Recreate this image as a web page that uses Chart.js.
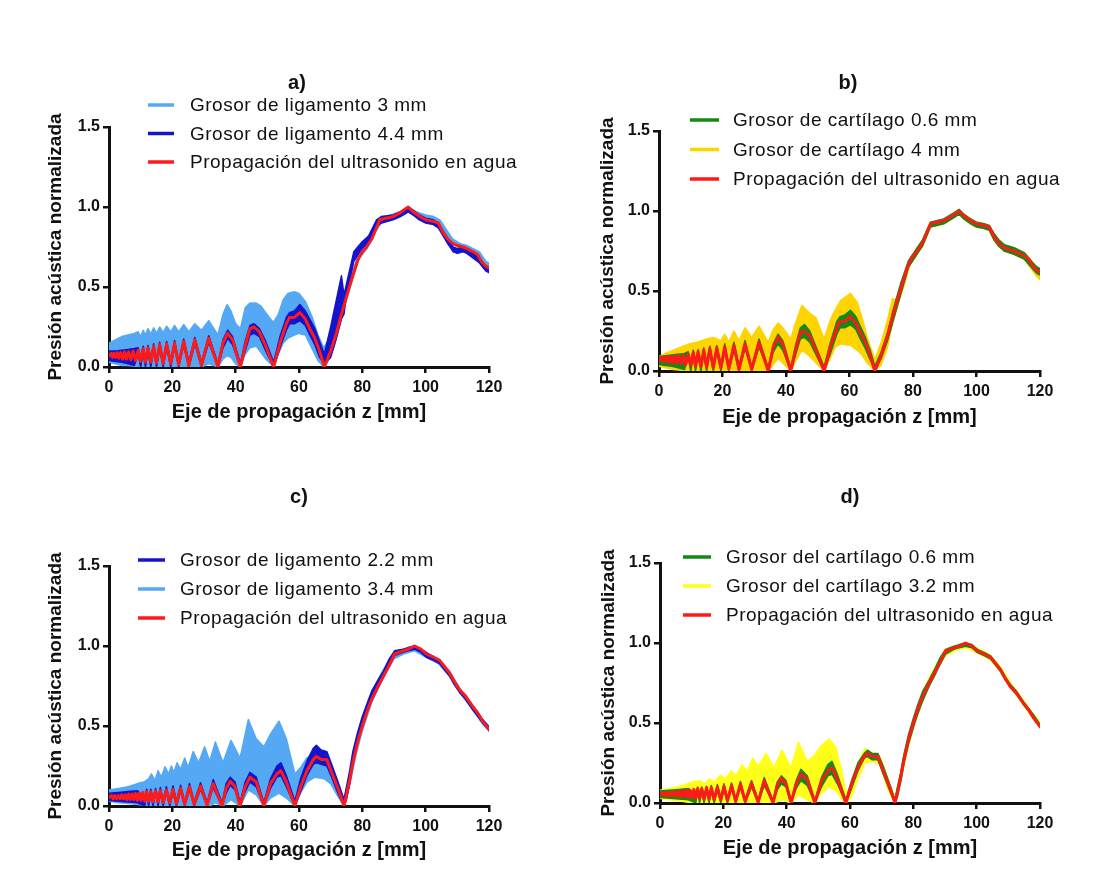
<!DOCTYPE html>
<html>
<head>
<meta charset="utf-8">
<script src="https://cdn.jsdelivr.net/npm/chart.js@4.4.1/dist/chart.umd.min.js"></script>
<style>
  html, body { margin: 0; padding: 0; background: #fff; }
  #wrap { position: relative; width: 1107px; height: 890px; }
  .panel { position: absolute; width: 553px; height: 445px; }
</style>
</head>
<body>
<div id="wrap">
  <div class="panel" style="left:0;top:0"><canvas id="chartA" width="553" height="445"></canvas></div>
  <div class="panel" style="left:553px;top:0"><canvas id="chartB" width="553" height="445"></canvas></div>
  <div class="panel" style="left:0;top:445px"><canvas id="chartC" width="553" height="445"></canvas></div>
  <div class="panel" style="left:553px;top:445px"><canvas id="chartD" width="553" height="445"></canvas></div>
</div>
<script>
// ---- datos: eje z [mm] y presión normalizada ----

// agua, paneles a) y b)
const zWaterAB = [0, 0.7, 1.1, 1.6, 2.1, 2.6, 3.1, 3.7, 4.3, 4.9, 5.5, 6.2, 6.9, 7.6, 8.4, 9.2, 10, 10.8, 11.5, 12.3, 13.2, 14.1, 15, 16, 17.1, 18.2, 19.5, 20.7, 22, 23.6, 25.2, 27.1, 29.2, 31.5, 34.4, 36, 37.5, 39, 41.5, 43, 44.5, 45.8, 47.5, 49.5, 52, 54, 56, 57, 58.5, 60.3, 62, 63.4, 65, 66.5, 68, 70, 71.8, 73, 75, 77, 78.6, 80, 81.3, 83, 85.5, 87.5, 89.7, 91.5, 93, 94.5, 96, 98.2, 100, 102.4, 104, 105.5, 107, 108.7, 110, 111.8, 113, 115, 116.5, 117.6, 119, 120];
const waterAB = [0.07, 0.085, 0.06, 0.085, 0.06, 0.09, 0.055, 0.09, 0.05, 0.095, 0.05, 0.095, 0.045, 0.1, 0.04, 0.105, 0.035, 0.115, 0.03, 0.12, 0.03, 0.13, 0.025, 0.14, 0.02, 0.145, 0.02, 0.15, 0.015, 0.16, 0.01, 0.17, 0.01, 0.18, 0, 0.15, 0.21, 0.17, 0, 0.13, 0.24, 0.25, 0.22, 0.13, 0, 0.15, 0.27, 0.31, 0.31, 0.34, 0.3, 0.24, 0.18, 0.1, 0, 0.1, 0.21, 0.3, 0.44, 0.57, 0.67, 0.72, 0.75, 0.8, 0.92, 0.93, 0.94, 0.96, 0.98, 1.0, 0.97, 0.94, 0.92, 0.91, 0.9, 0.84, 0.8, 0.77, 0.76, 0.75, 0.74, 0.72, 0.7, 0.66, 0.63, 0.62];

// a) ligamento 4.4 mm (banda: máximo / mínimo)
const zLig44 = [0, 2, 4, 6, 8, 9.2, 10, 10.8, 11.5, 12.3, 13.2, 14.1, 15, 16, 17.1, 18.2, 19.5, 20.7, 22, 23.6, 25.2, 27.1, 29.2, 31.5, 34.4, 36, 37.5, 39, 41.5, 43, 44.5, 45.8, 47.5, 49.5, 52, 54, 56, 57, 58.5, 60.3, 62, 63.4, 65, 66.5, 68, 70, 71.8, 73.4, 74.2, 75, 77.3, 79.8, 82, 84.5, 86, 89.7, 92, 94.5, 96, 98, 100, 102.4, 104, 105.5, 107, 108.7, 110, 111.8, 113, 115, 117, 119, 120];
const lig44Hi = [0.1, 0.1, 0.105, 0.11, 0.115, 0.12, 0.06, 0.13, 0.05, 0.135, 0.05, 0.145, 0.04, 0.155, 0.035, 0.16, 0.035, 0.165, 0.03, 0.175, 0.03, 0.185, 0.03, 0.195, 0.02, 0.17, 0.23, 0.19, 0.02, 0.16, 0.26, 0.27, 0.24, 0.16, 0.03, 0.19, 0.31, 0.34, 0.35, 0.39, 0.35, 0.3, 0.24, 0.16, 0.08, 0.25, 0.42, 0.57, 0.45, 0.52, 0.72, 0.78, 0.82, 0.92, 0.94, 0.95, 0.97, 1.0, 0.98, 0.95, 0.93, 0.92, 0.9, 0.85, 0.8, 0.75, 0.74, 0.75, 0.74, 0.71, 0.68, 0.63, 0.62];
const lig44Lo = [0.04, 0.035, 0.03, 0.02, 0.01, 0.08, 0, 0.09, 0, 0.095, 0, 0.105, 0, 0.115, 0, 0.12, 0, 0.125, 0, 0.135, 0, 0.145, 0, 0.155, 0, 0.12, 0.18, 0.14, 0, 0.1, 0.2, 0.21, 0.19, 0.1, 0, 0.12, 0.23, 0.27, 0.27, 0.29, 0.26, 0.2, 0.14, 0.06, 0.02, 0.06, 0.18, 0.3, 0.33, 0.45, 0.66, 0.74, 0.78, 0.88, 0.9, 0.92, 0.94, 0.97, 0.95, 0.92, 0.9, 0.89, 0.87, 0.82, 0.77, 0.72, 0.71, 0.72, 0.71, 0.68, 0.65, 0.6, 0.59];

// a) ligamento 3 mm
const zLig3 = [0, 2, 4, 6, 8, 9.2, 10, 10.8, 11.5, 12.3, 13.2, 14.1, 15, 16, 17.1, 18.2, 19.5, 20.7, 22, 23.6, 25.2, 27.1, 29.2, 31.5, 34.4, 36, 37.3, 38.5, 40, 41.5, 43, 44.5, 46.5, 48, 49.5, 51, 52, 53.5, 55, 56.5, 58.5, 60, 62, 64, 66, 67.8, 69, 71, 73, 75, 77, 79, 81.5, 84, 86, 89, 92, 94.5, 97, 100, 102.5, 104.5, 106.5, 108.5, 111, 113, 115, 117, 119, 120];
const lig3Hi = [0.15, 0.17, 0.19, 0.2, 0.21, 0.22, 0.19, 0.23, 0.2, 0.24, 0.205, 0.245, 0.21, 0.25, 0.215, 0.255, 0.22, 0.26, 0.22, 0.265, 0.22, 0.27, 0.23, 0.29, 0.2, 0.33, 0.39, 0.35, 0.27, 0.24, 0.37, 0.4, 0.4, 0.38, 0.34, 0.3, 0.28, 0.33, 0.42, 0.46, 0.47, 0.46, 0.41, 0.32, 0.2, 0.12, 0.16, 0.3, 0.42, 0.47, 0.6, 0.72, 0.77, 0.88, 0.93, 0.95, 0.97, 1.0, 0.97, 0.95, 0.94, 0.92, 0.86, 0.8, 0.77, 0.76, 0.74, 0.72, 0.66, 0.65];
const lig3Lo = [0.03, 0.02, 0.01, 0.01, 0.005, 0, 0, 0, 0, 0, 0, 0, 0, 0, 0, 0, 0, 0, 0, 0, 0, 0, 0, 0.02, 0, 0.05, 0.07, 0.06, 0.02, 0, 0.08, 0.12, 0.13, 0.09, 0.05, 0.02, 0, 0.08, 0.15, 0.18, 0.2, 0.21, 0.2, 0.12, 0.04, 0, 0.03, 0.12, 0.28, 0.42, 0.56, 0.68, 0.74, 0.84, 0.9, 0.92, 0.94, 0.97, 0.94, 0.92, 0.91, 0.88, 0.82, 0.77, 0.74, 0.73, 0.71, 0.69, 0.63, 0.61];

// b) cartílago 0.6 mm
const zCart06B = [0, 2, 4, 6, 8, 9.2, 10, 10.8, 11.5, 12.3, 13.2, 14.1, 15, 16, 17.1, 18.2, 19.5, 20.7, 22, 23.6, 25.2, 27.1, 29.2, 31.5, 34.4, 36, 37.5, 39, 41.5, 43, 44.5, 45.8, 47.5, 49.5, 52, 54, 56, 57, 58.5, 60.3, 62, 63.4, 65, 66.5, 68, 70, 72, 74, 76, 78.6, 81.3, 83, 85.5, 89.7, 93, 94.5, 96, 98.2, 100, 102.4, 104, 105.5, 107, 108.7, 111.8, 115, 117.6, 119, 120];
const cart06BHi = [0.09, 0.095, 0.1, 0.105, 0.11, 0.12, 0.055, 0.13, 0.05, 0.135, 0.045, 0.145, 0.04, 0.155, 0.035, 0.16, 0.035, 0.17, 0.03, 0.18, 0.03, 0.19, 0.025, 0.2, 0.02, 0.17, 0.23, 0.19, 0.02, 0.16, 0.27, 0.29, 0.25, 0.15, 0.025, 0.18, 0.31, 0.34, 0.35, 0.38, 0.34, 0.28, 0.21, 0.13, 0.03, 0.12, 0.24, 0.4, 0.54, 0.69, 0.77, 0.82, 0.93, 0.95, 0.99, 1.01, 0.98, 0.95, 0.93, 0.92, 0.91, 0.86, 0.82, 0.79, 0.77, 0.74, 0.68, 0.65, 0.64];
const cart06BLo = [0.04, 0.035, 0.03, 0.02, 0.01, 0.08, 0, 0.09, 0, 0.095, 0, 0.1, 0, 0.11, 0, 0.12, 0, 0.125, 0, 0.13, 0, 0.14, 0, 0.15, 0, 0.12, 0.17, 0.13, 0, 0.1, 0.2, 0.21, 0.18, 0.1, 0, 0.11, 0.23, 0.27, 0.27, 0.29, 0.26, 0.2, 0.14, 0.07, 0, 0.08, 0.19, 0.33, 0.47, 0.65, 0.73, 0.78, 0.9, 0.92, 0.96, 0.98, 0.95, 0.92, 0.9, 0.89, 0.88, 0.82, 0.78, 0.75, 0.73, 0.7, 0.64, 0.61, 0.6];

// b) cartílago 4 mm
const zCart4B = [0, 2, 4.5, 7, 9.8, 12, 15, 17.2, 19.5, 20.7, 22, 23.6, 25.2, 27.1, 29.2, 31.5, 34.4, 36, 37.5, 39, 41.5, 43, 45, 47, 49.5, 52, 54, 55.5, 57.2, 60.3, 62.4, 64, 65.6, 68, 70, 72, 73.5, 75, 77, 79, 81.3, 83, 85.5, 89.7, 93, 94.5, 96, 98.2, 100, 102.4, 104, 105.5, 107, 108.7, 111.8, 115, 117.6, 119, 120];
const cart4BHi = [0.09, 0.11, 0.13, 0.15, 0.17, 0.18, 0.2, 0.21, 0.19, 0.23, 0.18, 0.25, 0.19, 0.27, 0.21, 0.28, 0.18, 0.26, 0.3, 0.27, 0.2, 0.3, 0.41, 0.37, 0.33, 0.2, 0.32, 0.38, 0.44, 0.485, 0.43, 0.33, 0.21, 0.07, 0.18, 0.32, 0.45, 0.45, 0.58, 0.7, 0.77, 0.82, 0.93, 0.95, 0.99, 1.01, 0.98, 0.95, 0.93, 0.92, 0.91, 0.86, 0.82, 0.79, 0.77, 0.74, 0.68, 0.65, 0.63];
const cart4BLo = [0.03, 0.02, 0.01, 0.005, 0, 0, 0, 0, 0, 0, 0, 0, 0, 0, 0, 0, 0, 0.04, 0.08, 0.05, 0, 0.06, 0.13, 0.1, 0.05, 0, 0.08, 0.15, 0.17, 0.16, 0.13, 0.1, 0.05, 0, 0.04, 0.15, 0.3, 0.4, 0.52, 0.66, 0.73, 0.78, 0.9, 0.92, 0.96, 0.98, 0.95, 0.92, 0.9, 0.89, 0.88, 0.82, 0.78, 0.75, 0.73, 0.7, 0.63, 0.59, 0.57];

// agua, paneles c) y d)
const zWaterCD = [0, 0.8, 1.3, 1.8, 2.4, 2.9, 3.5, 4, 4.6, 5.1, 5.7, 6.2, 6.8, 7.3, 7.9, 8.4, 9, 9.5, 10.1, 10.7, 11.3, 11.9, 12.5, 13.2, 13.9, 14.7, 15.5, 16.2, 17.1, 18.1, 19.2, 20.2, 21.3, 22.6, 23.9, 25.4, 26.9, 28.9, 31, 32.9, 35.7, 37, 38.3, 39.8, 41.4, 43, 44.5, 46.5, 48.9, 51, 53, 54.3, 56, 58.7, 60.5, 62.5, 64.5, 65.5, 67, 68.8, 70.5, 72.5, 74.2, 75, 76, 77, 78.5, 80, 81.3, 83, 85, 86.6, 88.5, 90.2, 92.8, 94.5, 96.5, 98.5, 100.2, 102.5, 104.4, 106, 107.6, 109, 110.7, 112.5, 114.9, 116.5, 118, 119.7, 120];
const waterCD = [0.055, 0.065, 0.045, 0.065, 0.045, 0.065, 0.045, 0.07, 0.045, 0.07, 0.04, 0.075, 0.04, 0.075, 0.04, 0.08, 0.035, 0.08, 0.035, 0.085, 0.03, 0.09, 0.03, 0.09, 0.025, 0.095, 0.025, 0.096, 0.02, 0.1, 0.02, 0.104, 0.015, 0.11, 0.01, 0.12, 0.01, 0.125, 0.005, 0.14, 0, 0.11, 0.155, 0.12, 0, 0.12, 0.18, 0.15, 0, 0.14, 0.2, 0.22, 0.15, 0, 0.12, 0.22, 0.29, 0.31, 0.29, 0.29, 0.2, 0.1, 0, 0.07, 0.16, 0.27, 0.4, 0.5, 0.58, 0.67, 0.75, 0.81, 0.88, 0.95, 0.97, 0.98, 1.0, 0.98, 0.95, 0.93, 0.91, 0.87, 0.83, 0.78, 0.725, 0.69, 0.62, 0.58, 0.53, 0.486, 0.48];

// c) ligamento 2.2 mm  /  d) cartílago 0.6 mm (mismas posiciones z)
const zThinCD = [0, 3, 6, 9, 11.3, 11.9, 12.5, 13.2, 13.9, 14.7, 15.5, 16.2, 17.1, 18.1, 19.2, 20.2, 21.3, 22.6, 23.9, 25.4, 26.9, 28.9, 31, 32.9, 35.7, 37, 38.3, 39.8, 41.4, 43, 44.5, 46.5, 48.9, 51, 53, 54.3, 56, 58.7, 60.5, 62.5, 64.5, 65.5, 67, 68.8, 70.5, 72.5, 74.2, 75, 76, 77, 78.5, 80, 81.3, 83, 85, 86.6, 88.5, 90.2, 92.8, 94.5, 96.5, 98.5, 100.2, 102.5, 104.4, 106, 107.6, 109, 110.7, 112.5, 114.9, 116.5, 118, 119.7, 120];
const lig22Hi = [0.08, 0.085, 0.09, 0.095, 0.05, 0.105, 0.045, 0.105, 0.04, 0.11, 0.04, 0.115, 0.035, 0.12, 0.035, 0.125, 0.03, 0.13, 0.025, 0.14, 0.025, 0.145, 0.02, 0.165, 0.02, 0.14, 0.18, 0.15, 0.02, 0.15, 0.21, 0.18, 0.02, 0.17, 0.25, 0.27, 0.19, 0.03, 0.17, 0.28, 0.36, 0.38, 0.35, 0.34, 0.25, 0.14, 0.04, 0.12, 0.22, 0.34, 0.46, 0.56, 0.63, 0.72, 0.79, 0.84, 0.92, 0.97, 0.98, 0.99, 1.0, 0.98, 0.96, 0.93, 0.91, 0.87, 0.83, 0.78, 0.73, 0.69, 0.62, 0.58, 0.54, 0.5, 0.49];
const lig22Lo = [0.035, 0.03, 0.025, 0.02, 0, 0.075, 0, 0.075, 0, 0.08, 0, 0.08, 0, 0.085, 0, 0.09, 0, 0.095, 0, 0.1, 0, 0.105, 0, 0.115, 0, 0.08, 0.13, 0.1, 0, 0.09, 0.15, 0.12, 0, 0.11, 0.18, 0.19, 0.12, 0, 0.09, 0.19, 0.26, 0.27, 0.26, 0.25, 0.17, 0.07, 0, 0.04, 0.14, 0.27, 0.4, 0.5, 0.58, 0.66, 0.74, 0.8, 0.88, 0.94, 0.96, 0.97, 0.98, 0.96, 0.93, 0.91, 0.89, 0.85, 0.81, 0.76, 0.71, 0.67, 0.6, 0.56, 0.52, 0.48, 0.47];
const cart06DHi = [0.075, 0.08, 0.085, 0.09, 0.045, 0.1, 0.04, 0.1, 0.035, 0.105, 0.035, 0.11, 0.03, 0.115, 0.03, 0.12, 0.025, 0.125, 0.02, 0.135, 0.02, 0.14, 0.015, 0.16, 0.015, 0.13, 0.17, 0.14, 0.015, 0.14, 0.21, 0.17, 0.015, 0.16, 0.24, 0.26, 0.18, 0.02, 0.14, 0.25, 0.31, 0.33, 0.31, 0.31, 0.23, 0.12, 0.02, 0.1, 0.19, 0.3, 0.43, 0.53, 0.61, 0.7, 0.77, 0.83, 0.91, 0.96, 0.98, 0.99, 1.0, 0.99, 0.96, 0.94, 0.92, 0.88, 0.84, 0.79, 0.74, 0.7, 0.63, 0.59, 0.55, 0.5, 0.49];
const cart06DLo = [0.035, 0.03, 0.025, 0.02, 0, 0.07, 0, 0.07, 0, 0.075, 0, 0.075, 0, 0.08, 0, 0.085, 0, 0.09, 0, 0.095, 0, 0.1, 0, 0.11, 0, 0.08, 0.12, 0.1, 0, 0.09, 0.14, 0.11, 0, 0.1, 0.17, 0.18, 0.12, 0, 0.09, 0.2, 0.28, 0.29, 0.27, 0.27, 0.18, 0.08, 0, 0.04, 0.13, 0.24, 0.37, 0.47, 0.55, 0.64, 0.73, 0.79, 0.87, 0.93, 0.96, 0.97, 0.98, 0.97, 0.94, 0.92, 0.9, 0.86, 0.82, 0.77, 0.72, 0.68, 0.61, 0.57, 0.53, 0.48, 0.47];

// c) ligamento 3.4 mm
const zLig34 = [0, 3, 6, 9, 11, 12.5, 13.4, 14.5, 15.5, 16.5, 17.7, 18.8, 19.7, 20.5, 21.5, 22.6, 23.9, 25, 26.6, 28.3, 30.2, 31.8, 33.6, 36, 38.5, 41.4, 44, 46.5, 48.9, 51, 53.7, 56, 58.7, 60.5, 62.5, 65, 68, 70, 72, 74.2, 76, 78, 80, 83, 86, 90, 93, 96.5, 100, 104, 107.6, 110.7, 114.9, 118, 120];
const lig34Hi = [0.1, 0.11, 0.12, 0.14, 0.15, 0.17, 0.2, 0.16, 0.22, 0.18, 0.245, 0.2, 0.25, 0.21, 0.27, 0.23, 0.3, 0.24, 0.34, 0.27, 0.37, 0.28, 0.4, 0.27, 0.41, 0.3, 0.54, 0.42, 0.37, 0.45, 0.53, 0.42, 0.2, 0.24, 0.3, 0.34, 0.31, 0.26, 0.16, 0.04, 0.19, 0.38, 0.53, 0.7, 0.83, 0.96, 0.98, 1.0, 0.96, 0.92, 0.84, 0.74, 0.63, 0.54, 0.5];
const lig34Lo = [0.03, 0.02, 0.015, 0.01, 0.005, 0, 0, 0, 0, 0, 0, 0, 0, 0, 0, 0, 0, 0, 0, 0, 0, 0, 0.02, 0, 0.04, 0, 0.1, 0.07, 0, 0.05, 0.08, 0.05, 0, 0.08, 0.15, 0.18, 0.17, 0.14, 0.07, 0, 0.13, 0.32, 0.47, 0.65, 0.78, 0.92, 0.95, 0.97, 0.93, 0.89, 0.81, 0.71, 0.6, 0.51, 0.47];

// d) cartílago 3.2 mm
const zCart32D = [0, 3, 7.4, 10, 12.6, 14.2, 15.7, 17.2, 19.1, 20.6, 22.5, 24, 25.9, 27.5, 29.3, 31, 33.5, 36, 38.5, 41.4, 43.7, 46.5, 48.9, 51, 53.4, 55.5, 57.5, 58.7, 60.5, 62.5, 64.7, 67, 69.5, 72, 74.2, 76, 78, 80, 83, 86, 90, 93, 96.5, 100, 104, 107.6, 110.7, 114.9, 118, 120];
const cart32DHi = [0.08, 0.09, 0.11, 0.13, 0.14, 0.12, 0.15, 0.13, 0.175, 0.15, 0.2, 0.17, 0.24, 0.2, 0.28, 0.23, 0.31, 0.22, 0.33, 0.22, 0.38, 0.26, 0.3, 0.36, 0.4, 0.35, 0.19, 0.06, 0.12, 0.25, 0.34, 0.31, 0.29, 0.15, 0.03, 0.19, 0.37, 0.52, 0.7, 0.82, 0.96, 0.98, 1.0, 0.97, 0.93, 0.85, 0.75, 0.64, 0.55, 0.51];
const cart32DLo = [0.03, 0.02, 0.01, 0, 0, 0, 0, 0, 0, 0, 0, 0, 0, 0, 0, 0, 0, 0, 0.02, 0, 0.05, 0.02, 0, 0.06, 0.1, 0.08, 0.02, 0, 0.04, 0.15, 0.25, 0.26, 0.24, 0.08, 0, 0.13, 0.32, 0.47, 0.65, 0.78, 0.92, 0.95, 0.97, 0.94, 0.9, 0.82, 0.72, 0.61, 0.52, 0.48];

const RED = '#ff1a1a';
const DARK_BLUE = '#1414cc';
const LIGHT_BLUE = '#55a9f4';
const GREEN = '#138a13';
const GOLD = '#ffd400';
const YELLOW = '#ffff1a';
const FONT = 'Arial, "Liberation Sans", Helvetica, sans-serif';

const pts = (zs, ys) => zs.map((z, i) => ({ x: z, y: ys[i] }));

function line(label, zs, ys, color) {
  return { label, data: pts(zs, ys), borderColor: color, borderWidth: 3, fill: false };
}

// serie con oscilación densa: se dibuja como banda entre máximo y mínimo
function band(label, zs, hi, lo, color) {
  return [
    { label, data: pts(zs, hi), borderColor: color, borderWidth: 1.5, fill: false },
    { label: label + ' (min)', data: pts(zs, lo), borderColor: color, backgroundColor: color, borderWidth: 1.5, fill: '-1' }
  ];
}

function makePanel(id, title, datasets, legendItems, box) {
  const canvas = document.getElementById(id);
  const W = canvas.width, H = canvas.height;

  const deco = {
    id: 'deco',
    afterDraw(chart) {
      const ctx = chart.ctx;
      ctx.save();
      ctx.fillStyle = '#111';
      ctx.textBaseline = 'middle';
      ctx.textAlign = 'center';
      ctx.font = 'bold 20px ' + FONT;
      ctx.fillText(title, box.titleX, box.titleY);
      ctx.textAlign = 'left';
      ctx.font = '19px ' + FONT;
      ctx.letterSpacing = '0.5px';
      legendItems.forEach((it, i) => {
        const y = box.legY + i * box.legGap;
        ctx.strokeStyle = it.color;
        ctx.lineWidth = 3.5;
        ctx.beginPath();
        ctx.moveTo(box.legX0, y);
        ctx.lineTo(box.legX1, y);
        ctx.stroke();
        ctx.fillText(it.label, box.legText, y + 1);
      });
      ctx.restore();
    }
  };

  const axisCommon = {
    type: 'linear',
    border: { display: true, color: '#111', width: 3 },
    grid: { display: true, drawOnChartArea: false, drawTicks: true, tickLength: 6, color: '#111', lineWidth: 2.5 },
    title: { display: true, color: '#111', font: { family: FONT, size: 19, weight: 'bold' } }
  };

  return new Chart(canvas, {
    type: 'line',
    data: { datasets },
    options: {
      responsive: false,
      animation: false,
      events: [],
      layout: { padding: { left: 0, top: box.top, right: W - box.right, bottom: 0 } },
      plugins: { legend: { display: false }, tooltip: { enabled: false } },
      elements: { point: { radius: 0 }, line: { tension: 0, borderJoinStyle: 'round', borderCapStyle: 'round' } },
      scales: {
        x: Object.assign({}, axisCommon, {
          min: 0, max: 120,
          ticks: { stepSize: 20, padding: 5, color: '#111', font: { family: FONT, size: 16, weight: 'bold' } },
          title: { display: true, color: '#111', font: { family: FONT, size: 20, weight: 'bold' },
                   text: 'Eje de propagación z [mm]', padding: { top: 0, bottom: box.xTitlePad } },
          afterFit: s => { s.height = H - box.bottom; }
        }),
        y: Object.assign({}, axisCommon, {
          min: 0, max: 1.5,
          ticks: { stepSize: 0.5, padding: 3, color: '#111', font: { family: FONT, size: 16, weight: 'bold' },
                   callback: v => v.toFixed(1) },
          title: Object.assign({}, axisCommon.title, { text: 'Presión acústica normalizada', padding: { top: box.yTitlePad, bottom: 0 } }),
          afterFit: s => { s.width = box.left; }
        })
      }
    },
    plugins: [deco]
  });
}

// a)
makePanel('chartA', 'a)', [
  line('Propagación del ultrasonido en agua', zWaterAB, waterAB, RED),
  ...band('Grosor de ligamento 4.4 mm', zLig44, lig44Hi, lig44Lo, DARK_BLUE),
  ...band('Grosor de ligamento 3 mm', zLig3, lig3Hi, lig3Lo, LIGHT_BLUE)
], [
  { label: 'Grosor de ligamento 3 mm', color: LIGHT_BLUE },
  { label: 'Grosor de ligamento 4.4 mm', color: DARK_BLUE },
  { label: 'Propagación del ultrasonido en agua', color: RED }
], { left: 109, right: 489, top: 127, bottom: 367, xTitlePad: 21, yTitlePad: 44,
     titleX: 297, titleY: 83, legX0: 148, legX1: 174, legText: 190, legY: 105, legGap: 28.5 });

// b)
makePanel('chartB', 'b)', [
  line('Propagación del ultrasonido en agua', zWaterAB, waterAB, RED),
  ...band('Grosor de cartílago 0.6 mm', zCart06B, cart06BHi, cart06BLo, GREEN),
  ...band('Grosor de cartílago 4 mm', zCart4B, cart4BHi, cart4BLo, GOLD)
], [
  { label: 'Grosor de cartílago 0.6 mm', color: GREEN },
  { label: 'Grosor de cartílago 4 mm', color: GOLD },
  { label: 'Propagación del ultrasonido en agua', color: RED }
], { left: 106, right: 487, top: 131, bottom: 371, xTitlePad: 16, yTitlePad: 43,
     titleX: 295, titleY: 83, legX0: 137, legX1: 166, legText: 180, legY: 120, legGap: 29.5 });

// c)
makePanel('chartC', 'c)', [
  line('Propagación del ultrasonido en agua', zWaterCD, waterCD, RED),
  ...band('Grosor de ligamento 2.2 mm', zThinCD, lig22Hi, lig22Lo, DARK_BLUE),
  ...band('Grosor de ligamento 3.4 mm', zLig34, lig34Hi, lig34Lo, LIGHT_BLUE)
], [
  { label: 'Grosor de ligamento 2.2 mm', color: DARK_BLUE },
  { label: 'Grosor de ligamento 3.4 mm', color: LIGHT_BLUE },
  { label: 'Propagación del ultrasonido en agua', color: RED }
], { left: 109, right: 489, top: 121, bottom: 361, xTitlePad: 28, yTitlePad: 44,
     titleX: 299, titleY: 52, legX0: 138, legX1: 165, legText: 180, legY: 115, legGap: 29 });

// d)
makePanel('chartD', 'd)', [
  line('Propagación del ultrasonido en agua', zWaterCD, waterCD, RED),
  ...band('Grosor del cartílago 0.6 mm', zThinCD, cart06DHi, cart06DLo, GREEN),
  ...band('Grosor del cartílago 3.2 mm', zCart32D, cart32DHi, cart32DLo, YELLOW)
], [
  { label: 'Grosor del cartílago 0.6 mm', color: GREEN },
  { label: 'Grosor del cartílago 3.2 mm', color: YELLOW },
  { label: 'Propagación del ultrasonido en agua', color: RED }
], { left: 107, right: 487, top: 118, bottom: 358, xTitlePad: 30, yTitlePad: 44,
     titleX: 297, titleY: 52, legX0: 130, legX1: 158, legText: 173, legY: 112, legGap: 29 });
</script>
</body>
</html>
